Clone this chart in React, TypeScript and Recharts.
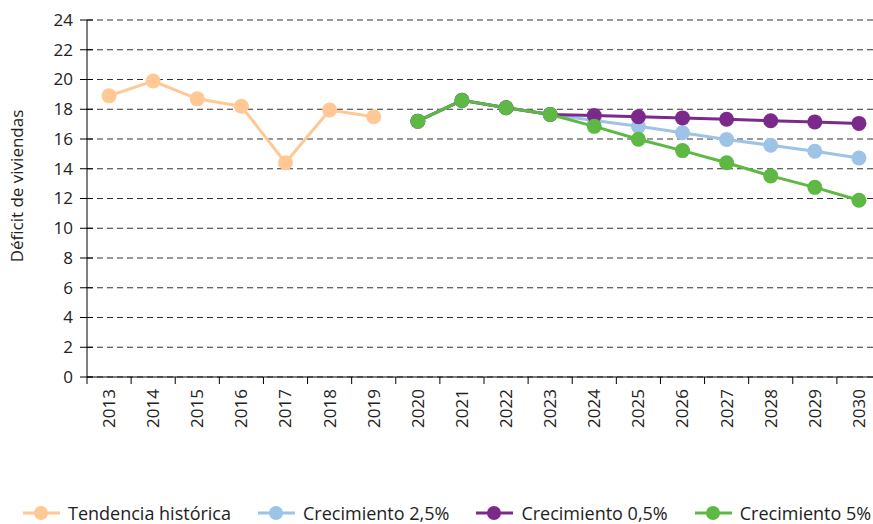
import React from "react";
import {
  LineChart,
  Line,
  XAxis,
  YAxis,
  CartesianGrid,
  Legend,
} from "recharts";

const FONT = "'Open Sans', 'Noto Sans', sans-serif";

const years = [
  "2013", "2014", "2015", "2016", "2017", "2018", "2019", "2020", "2021",
  "2022", "2023", "2024", "2025", "2026", "2027", "2028", "2029", "2030",
];

// historic trend 2013-2019
const historic = [18.9, 19.9, 18.7, 18.2, 14.4, 17.95, 17.5];
// scenarios 2020-2030 (shared start up to 2023)
const growth25 = [17.2, 18.6, 18.1, 17.65, 17.25, 16.85, 16.42, 15.97, 15.58, 15.18, 14.72];
const growth05 = [17.2, 18.6, 18.1, 17.65, 17.58, 17.5, 17.42, 17.33, 17.23, 17.15, 17.05];
const growth5 = [17.2, 18.6, 18.1, 17.65, 16.85, 15.98, 15.22, 14.4, 13.52, 12.75, 11.88];

const yTicks = [0, 2, 4, 6, 8, 10, 12, 14, 16, 18, 20, 22, 24];

const SERIES = [
  { key: "historic", name: "Tendencia histórica", color: "#FFC894" },
  { key: "g25", name: "Crecimiento 2,5%", color: "#9DC3E6" },
  { key: "g05", name: "Crecimiento 0,5%", color: "#7B2A8C" },
  { key: "g5", name: "Crecimiento 5%", color: "#5DB844" },
];

const data = years.map((year, i) => ({
  year,
  historic: i < historic.length ? historic[i] : null,
  g25: i >= 7 ? growth25[i - 7] : null,
  g05: i >= 7 ? growth05[i - 7] : null,
  g5: i >= 7 ? growth5[i - 7] : null,
}));

const CHART_W = 882;
const CHART_H = 524;
const PLOT_LEFT = 87;
const PLOT_RIGHT = 881;
const BAND = (PLOT_RIGHT - PLOT_LEFT) / years.length;

function YTick(props: any) {
  const { x, y, payload } = props;
  return (
    <g>
      <line x1={x - 7} x2={x + 6} y1={y} y2={y} stroke="#000" strokeWidth={1} />
      <text
        x={x - 14}
        y={y}
        dy="0.35em"
        textAnchor="end"
        fontFamily={FONT}
        fontSize={17}
        fill="#222"
      >
        {payload.value}
      </text>
    </g>
  );
}

function XTick(props: any) {
  const { x, y, payload, index } = props;
  const left = x - BAND / 2;
  return (
    <g>
      <line x1={left} x2={left} y1={y} y2={y + 7} stroke="#000" strokeWidth={1} />
      {index === years.length - 1 && (
        <line x1={x + BAND / 2} x2={x + BAND / 2} y1={y} y2={y + 7} stroke="#000" />
      )}
      <text
        x={x}
        y={y + 12}
        dy="0.35em"
        textAnchor="end"
        transform={`rotate(-90, ${x}, ${y + 12})`}
        fontFamily={FONT}
        fontSize={17}
        fill="#222"
      >
        {payload.value}
      </text>
    </g>
  );
}

function YLabel() {
  return (
    <text
      x={17}
      y={186}
      dy="0.35em"
      textAnchor="middle"
      transform="rotate(-90, 17, 186)"
      fontFamily={FONT}
      fontSize={17}
      fill="#222"
    >
      Déficit de viviendas
    </text>
  );
}

function LegendContent() {
  return (
    <div
      style={{
        display: "flex",
        alignItems: "center",
        height: 30,
        gap: 27,
        paddingLeft: 23,
        fontFamily: FONT,
        fontSize: 18,
        color: "#222",
        whiteSpace: "nowrap",
      }}
    >
      {SERIES.map((s) => (
        <div key={s.key} style={{ display: "flex", alignItems: "center" }}>
          <svg width={37} height={16} style={{ marginRight: 8 }}>
            <line x1={0} x2={37} y1={8} y2={8} stroke={s.color} strokeWidth={3} />
            <circle cx={18} cy={8} r={7} fill={s.color} />
          </svg>
          <span>{s.name}</span>
        </div>
      ))}
    </div>
  );
}

export default function App() {
  return (
    <div
      style={{
        position: "absolute",
        left: 0,
        top: 0,
        width: 873,
        height: 524,
        overflow: "hidden",
        background: "#fff",
      }}
    >
      <LineChart
        width={CHART_W}
        height={CHART_H}
        data={data}
        margin={{ top: 20, right: CHART_W - PLOT_RIGHT, bottom: 0, left: 0 }}
      >
        <CartesianGrid
          vertical={false}
          stroke="#333"
          strokeDasharray="6 4"
        />
        <XAxis
          dataKey="year"
          height={117}
          stroke="#000"
          tickLine={false}
          tickSize={0}
          tickMargin={0}
          interval={0}
          padding={{ left: BAND / 2, right: BAND / 2 }}
          tick={<XTick />}
        />
        <YAxis
          width={PLOT_LEFT}
          domain={[0, 24]}
          ticks={yTicks}
          stroke="#000"
          tickLine={false}
          tickSize={0}
          tickMargin={0}
          tick={<YTick />}
          label={<YLabel />}
        />
        <Legend
          verticalAlign="bottom"
          height={30}
          wrapperStyle={{ bottom: -4 }}
          content={<LegendContent />}
        />
        {SERIES.map((s) => (
          <Line
            key={s.key}
            dataKey={s.key}
            name={s.name}
            stroke={s.color}
            strokeWidth={3}
            dot={{ r: 7.5, fill: s.color, stroke: "none" }}
            activeDot={false}
            connectNulls={false}
            isAnimationActive={false}
          />
        ))}
      </LineChart>
    </div>
  );
}
